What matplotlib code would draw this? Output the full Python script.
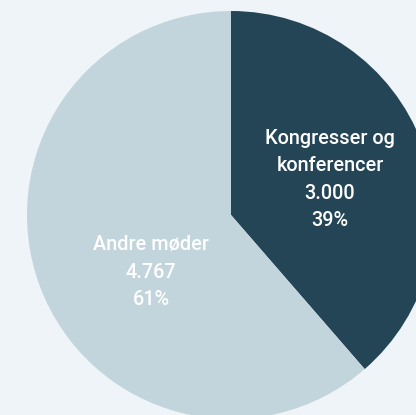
import matplotlib
matplotlib.use("Agg")
import matplotlib.pyplot as plt

categories = ["Kongresser og\nkonferencer", "Andre møder"]
values = [3000, 4767]
value_labels = ["3.000", "4.767"]
colors = ["#234556", "#c3d5dc"]
bg = "#eef4f7"

W, H = 416, 415
fig = plt.figure(figsize=(W / 100, H / 100), dpi=100, facecolor=bg)
ax = fig.add_axes([0, 0, 1, 1])
ax.set_facecolor(bg)

R = 204.0
cx, cy = 231.0, 200.0  # pixel centre from bottom-left
ax.pie(values, colors=colors, startangle=90, counterclock=False,
       radius=1, center=(0, 0), wedgeprops=dict(linewidth=0))
ax.set_xlim(-cx / R, (W - cx) / R)
ax.set_ylim(-cy / R, (H - cy) / R)
ax.set_aspect("equal")
ax.axis("off")

total = sum(values)
pos = [(99 / R, 35.5 / R), (-80 / R, -57 / R)]
for cat, vl, v, (x, y) in zip(categories, value_labels, values, pos):
    pct = round(100 * v / total)
    ax.text(x, y, f"{cat}\n{vl}\n{pct}%", ha="center", va="center",
            color="white", fontsize=14.3, family="Roboto", weight="medium",
            linespacing=1.55)

fig.savefig("out.png", dpi=100, facecolor=bg)
